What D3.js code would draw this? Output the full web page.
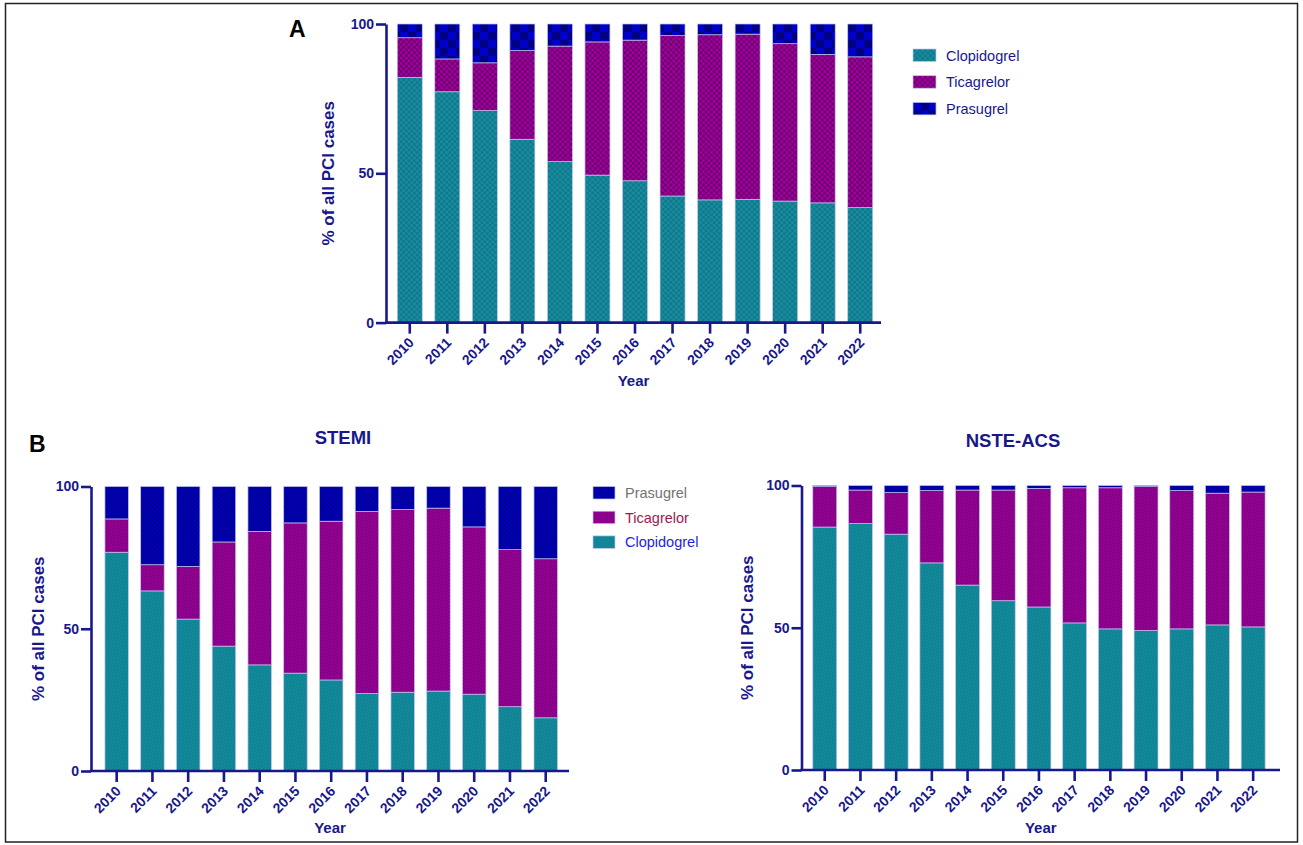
<!DOCTYPE html>
<html>
<head>
<meta charset="utf-8">
<script src="https://cdn.jsdelivr.net/npm/d3@7"></script>
<style>
  body { margin: 0; background: #fff; }
  svg { display: block; font-family: Arial, "Liberation Sans", Helvetica, sans-serif; }
</style>
</head>
<body>
<script>
// years on the x axis (same for all three panels)
const years = ["2010", "2011", "2012", "2013", "2014", "2015", "2016", "2017", "2018", "2019", "2020", "2021", "2022"];
const yTicks = [0, 50, 100];

// Panel A - all PCI cases (% share of each P2Y12 inhibitor)
const allClopidogrel = [82.1, 77.3, 71.0, 61.4, 53.9, 49.4, 47.5, 42.4, 41.1, 41.3, 40.7, 40.1, 38.5];
const allTicagrelor  = [13.3, 11.0, 16.0, 29.7, 38.7, 44.6, 47.1, 53.7, 55.3, 55.3, 52.7, 49.7, 50.5];
const allPrasugrel   = [4.6, 11.7, 13.0, 8.9, 7.4, 6.0, 5.4, 3.9, 3.6, 3.4, 6.6, 10.2, 11.0];

// Panel B left - STEMI
const stemiClopidogrel = [76.9, 63.3, 53.4, 43.9, 37.3, 34.4, 32.0, 27.2, 27.7, 28.1, 27.0, 22.6, 18.7];
const stemiTicagrelor  = [11.7, 9.2, 18.5, 36.6, 46.9, 52.8, 55.8, 64.0, 64.2, 64.3, 58.8, 55.2, 55.9];
const stemiPrasugrel   = [11.4, 27.5, 28.1, 19.5, 15.8, 12.8, 12.2, 8.8, 8.1, 7.6, 14.2, 22.2, 25.4];

// Panel B right - NSTE-ACS
const nsteClopidogrel = [85.4, 86.6, 82.9, 72.8, 65.0, 59.5, 57.3, 51.7, 49.6, 49.0, 49.6, 51.0, 50.3];
const nsteTicagrelor  = [14.2, 11.8, 14.6, 25.4, 33.4, 38.9, 41.7, 47.5, 49.6, 50.6, 48.6, 46.3, 47.4];
const nstePrasugrel   = [0.4, 1.6, 2.5, 1.8, 1.6, 1.6, 1.0, 0.8, 0.8, 0.4, 1.8, 2.7, 2.3];

const drugs = ["Clopidogrel", "Ticagrelor", "Prasugrel"];

const navy = "#18188c";

const svg = d3.select("body").append("svg")
    .attr("width", 1303)
    .attr("height", 845);

// checkerboard fills like the prism hatch
const defs = svg.append("defs");
function checker(id, base, dark, cell) {
  const p = defs.append("pattern")
      .attr("id", id)
      .attr("patternUnits", "userSpaceOnUse")
      .attr("width", cell * 2)
      .attr("height", cell * 2);
  p.append("rect").attr("width", cell * 2).attr("height", cell * 2).attr("fill", base);
  p.append("rect").attr("width", cell).attr("height", cell).attr("fill", dark);
  p.append("rect").attr("x", cell).attr("y", cell).attr("width", cell).attr("height", cell).attr("fill", dark);
}
checker("a-clop", "#178c9e", "#11798b", 2.7);
checker("a-tica", "#a000a0", "#6e006e", 2.7);
checker("a-pras", "#000084", "#0000c8", 8);
checker("b-clop", "#138d9e", "#107f90", 1.6);
checker("b-tica", "#9c009c", "#7c007c", 1.6);
checker("b-pras", "#00008a", "#0000c4", 2.2);

function rowsOf(clop, tica, pras) {
  return years.map((y, i) => ({ year: y, Clopidogrel: clop[i], Ticagrelor: tica[i], Prasugrel: pras[i] }));
}

function drawPanel(o) {
  const data = rowsOf(o.clop, o.tica, o.pras);
  const g = svg.append("g");

  const x = d3.scaleBand()
      .domain(years)
      .range([o.r0, o.r1])
      .paddingInner(o.pad)
      .paddingOuter(o.pad / 2);

  const y = d3.scaleLinear()
      .domain([0, 100])
      .range([o.bottom, o.top]);

  const series = d3.stack().keys(drugs)(data);

  g.selectAll(".layer")
    .data(series)
    .enter().append("g")
      .attr("class", "layer")
      .attr("fill", d => "url(#" + o.prefix + "-" + d.key.slice(0, 4).toLowerCase() + ")")
    .selectAll("rect")
    .data(d => d)
    .enter().append("rect")
      .attr("x", d => x(d.data.year))
      .attr("width", x.bandwidth())
      .attr("y", d => y(d[1]))
      .attr("height", d => y(d[0]) - y(d[1]))
      .attr("stroke", "#c3c6ec")
      .attr("stroke-width", 0.7);

  // y axis
  const ya = g.append("g")
      .attr("transform", "translate(" + o.axisX + ",0)")
      .call(d3.axisLeft(y).tickValues(yTicks).tickSize(10).tickSizeOuter(0).tickPadding(2));

  // x axis
  const xa = g.append("g")
      .attr("transform", "translate(0," + o.bottom + ")")
      .call(d3.axisBottom(x).tickSize(11).tickSizeOuter(0));
  xa.select(".domain").remove();
  xa.append("line")
      .attr("x1", o.axisX - 1)
      .attr("x2", o.axisEnd)
      .attr("stroke", navy)
      .attr("stroke-width", 2.6);

  [ya, xa].forEach(a => {
    a.selectAll("path, line").attr("stroke", navy).attr("stroke-width", 2.6);
    a.selectAll("text")
      .attr("fill", navy)
      .style("font-size", "14px")
      .style("font-weight", "bold");
  });

  xa.selectAll(".tick text")
      .attr("y", 0)
      .attr("dy", 0)
      .attr("text-anchor", "end")
      .attr("transform", "translate(5,21) rotate(-45)");

  // axis titles
  g.append("text")
      .attr("transform", "translate(" + o.ylabX + "," + ((o.top + o.bottom) / 2) + ") rotate(-90)")
      .attr("text-anchor", "middle")
      .attr("dy", "0.35em")
      .attr("fill", navy)
      .style("font-size", "17px")
      .style("font-weight", "bold")
      .text("% of all PCI cases");

  g.append("text")
      .attr("x", (o.axisX + o.axisEnd) / 2)
      .attr("y", o.yearY)
      .attr("text-anchor", "middle")
      .attr("fill", navy)
      .style("font-size", "15px")
      .style("font-weight", "bold")
      .text("Year");

  if (o.title) {
    g.append("text")
        .attr("x", o.titleX)
        .attr("y", o.titleY)
        .attr("text-anchor", "middle")
        .attr("fill", navy)
        .style("font-size", "18.5px")
        .style("font-weight", "bold")
        .text(o.title);
  }

  if (o.legend) {
    const lg = g.append("g").attr("transform", "translate(" + o.legend.x + "," + o.legend.y + ")");
    const item = lg.selectAll("g")
      .data(o.legend.items)
      .enter().append("g")
        .attr("transform", (d, i) => "translate(0," + i * o.legend.gap + ")");
    item.append("rect")
        .attr("width", o.legend.w)
        .attr("height", 12.5)
        .attr("fill", d => "url(#" + o.prefix + "-" + d.key.slice(0, 4).toLowerCase() + ")")
        .attr("stroke", "#c3c6ec")
        .attr("stroke-width", 0.7);
    item.append("text")
        .attr("x", o.legend.w + 10)
        .attr("y", 6.5)
        .attr("dy", "0.35em")
        .attr("fill", d => d.color)
        .style("font-size", "14.5px")
        .text(d => d.key);
  }
}

// panel A
drawPanel({
  prefix: "a",
  clop: allClopidogrel, tica: allTicagrelor, pras: allPrasugrel,
  r0: 391, r1: 879, pad: 0.334,
  top: 24, bottom: 322.6, axisX: 386, axisEnd: 881,
  ylabX: 328, yearY: 386,
  legend: {
    x: 913, y: 49, gap: 26.7, w: 23,
    items: [
      { key: "Clopidogrel", color: navy },
      { key: "Ticagrelor", color: navy },
      { key: "Prasugrel", color: navy }
    ]
  }
});

// panel B - STEMI
drawPanel({
  prefix: "b",
  clop: stemiClopidogrel, tica: stemiTicagrelor, pras: stemiPrasugrel,
  r0: 98.8, r1: 563.6, pad: 0.343,
  top: 486.5, bottom: 771, axisX: 91, axisEnd: 569,
  ylabX: 38, yearY: 833,
  title: "STEMI", titleX: 343, titleY: 444,
  legend: {
    x: 593, y: 486.5, gap: 24.7, w: 22,
    items: [
      { key: "Prasugrel", color: "#737373" },
      { key: "Ticagrelor", color: "#9e1a4e" },
      { key: "Clopidogrel", color: "#1e1ee0" }
    ]
  }
});

// panel B - NSTE-ACS
drawPanel({
  prefix: "b",
  clop: nsteClopidogrel, tica: nsteTicagrelor, pras: nstePrasugrel,
  r0: 806.9, r1: 1271, pad: 0.33,
  top: 485.5, bottom: 770, axisX: 801.5, axisEnd: 1280,
  ylabX: 747, yearY: 833,
  title: "NSTE-ACS", titleX: 1013, titleY: 447
});

// panel letters
svg.append("text").attr("x", 289).attr("y", 37)
    .style("font-size", "23px").style("font-weight", "bold").text("A");
svg.append("text").attr("x", 29).attr("y", 452)
    .style("font-size", "23px").style("font-weight", "bold").text("B");

// frame round the figure
svg.append("rect")
    .attr("x", 5.5).attr("y", 3.5)
    .attr("width", 1292).attr("height", 838.5)
    .attr("fill", "none")
    .attr("stroke", "#222")
    .attr("stroke-width", 1.5);
</script>
</body>
</html>
